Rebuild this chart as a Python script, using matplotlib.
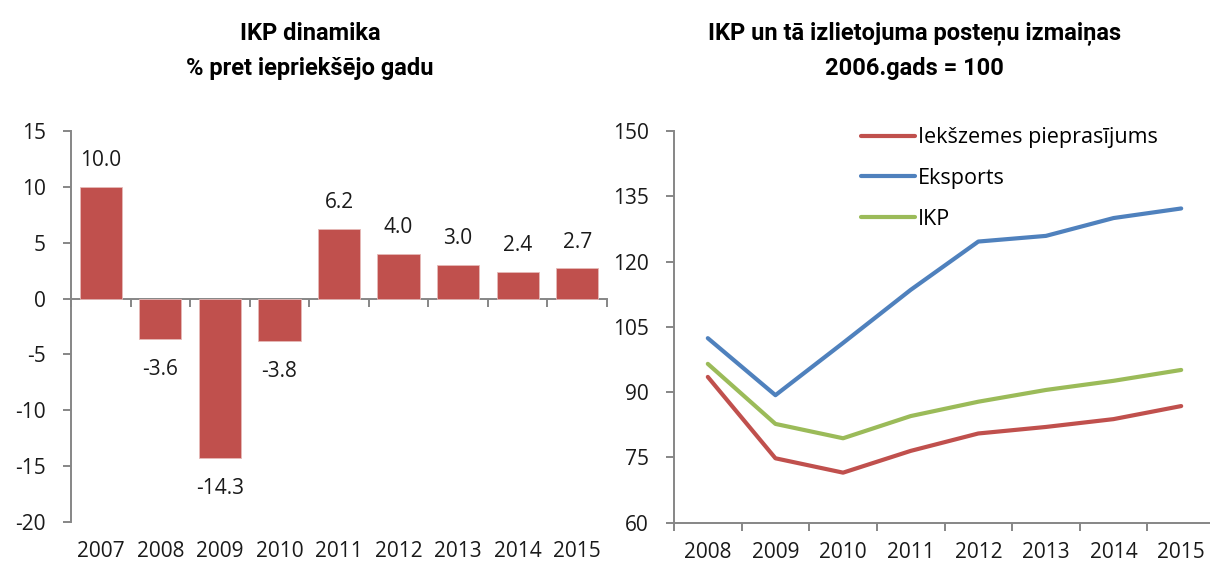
import numpy as np
import matplotlib.pyplot as plt

# left chart: GDP growth, % vs previous year
bar_years = ['2007', '2008', '2009', '2010', '2011', '2012', '2013', '2014', '2015']
gdp_growth = [10.0, -3.6, -14.3, -3.8, 6.2, 4.0, 3.0, 2.4, 2.7]

# right chart: index, 2006 = 100
line_years = ['2008', '2009', '2010', '2011', '2012', '2013', '2014', '2015']
domestic = [93.5, 74.8, 71.5, 76.5, 80.5, 82.0, 83.8, 86.8]
exports = [102.4, 89.3, 101.3, 113.5, 124.6, 125.9, 130.0, 132.2]
gdp_index = [96.5, 82.7, 79.4, 84.5, 87.8, 90.5, 92.6, 95.1]

red = '#C0504D'
blue = '#4F81BD'
green = '#9BBB59'
axcol = '#868686'
fs = 15

plt.rcParams['font.family'] = ['Open Sans', 'DejaVu Sans']
plt.rcParams['axes.unicode_minus'] = False
title_font = ['Roboto', 'DejaVu Sans']

fig = plt.figure(figsize=(12.1, 5.61), dpi=100)

# ---- left: bars ----
ax1 = fig.add_axes([71/1210, 1-522/561, 536/1210, 391/561])
x = np.arange(len(bar_years))
ax1.bar(x, gdp_growth, width=0.71, color=red, edgecolor='#E6B9B8', linewidth=0.6, zorder=2)
for xi, v in zip(x, gdp_growth):
    off = 19 if v >= 0 else -22
    ax1.annotate(f'{v:.1f}', (xi, v), xytext=(0, off), textcoords='offset points',
                 ha='center', va='center', fontsize=fs, color='#1a1a1a')
ax1.set_xlim(-0.5, len(bar_years) - 0.5)
ax1.set_ylim(-20, 15)
ax1.set_yticks(range(-20, 16, 5))
ax1.set_xticks(x)
ax1.set_xticklabels(bar_years)
ax1.tick_params(axis='x', length=0, pad=14, labelsize=fs, colors='#1a1a1a')
ax1.tick_params(axis='y', length=6, width=1.4, color=axcol, pad=12, labelsize=fs, labelcolor='#1a1a1a')
for s in ['top', 'right', 'bottom']:
    ax1.spines[s].set_visible(False)
ax1.spines['left'].set_color(axcol)
ax1.spines['left'].set_linewidth(1.4)
# zero line with category separators
sec = ax1.secondary_xaxis(0, transform=ax1.transData)
sec.set_xticks(np.arange(-0.5, len(bar_years), 1.0))
sec.set_xticklabels([])
sec.tick_params(length=6, width=1.4, color=axcol)
sec.spines['bottom'].set_color(axcol)
sec.spines['bottom'].set_linewidth(1.4)

# ---- right: lines ----
ax2 = fig.add_axes([674/1210, 1-522.7/561, 541/1210, 391.7/561])
xl = np.arange(len(line_years))
ax2.plot(xl, domestic, color=red, lw=3, solid_capstyle='round', label='Iekšzemes pieprasījums')
ax2.plot(xl, exports, color=blue, lw=3, solid_capstyle='round', label='Eksports')
ax2.plot(xl, gdp_index, color=green, lw=3, solid_capstyle='round', label='IKP')
ax2.set_xlim(-0.5, len(line_years) - 0.5)
ax2.set_ylim(60, 150)
ax2.set_yticks(range(60, 151, 15))
ax2.set_xticks(np.arange(-0.5, len(line_years), 1.0))
ax2.set_xticklabels([])
ax2.set_xticks(xl, minor=True)
ax2.set_xticklabels(line_years, minor=True)
ax2.tick_params(axis='x', which='major', length=6, width=1.4, color=axcol)
ax2.tick_params(axis='x', which='minor', length=0, pad=14, labelsize=fs, labelcolor='#1a1a1a')
ax2.tick_params(axis='y', length=6, width=1.4, color=axcol, pad=12, labelsize=fs, labelcolor='#1a1a1a')
for s in ['top', 'right']:
    ax2.spines[s].set_visible(False)
for s in ['left', 'bottom']:
    ax2.spines[s].set_color(axcol)
    ax2.spines[s].set_linewidth(1.4)
leg = ax2.legend(loc='upper left', bbox_to_anchor=(0.33, 1.032), frameon=False, fontsize=15.5,
                 handlelength=2.5, handletextpad=0.15, labelspacing=0.92, borderaxespad=0)

# ---- titles ----
tkw = dict(ha='center', va='baseline', fontsize=17, fontweight='bold', family=title_font)
fig.text(310/1210, 1-40/561, 'IKP dinamika', **tkw)
fig.text(310/1210, 1-75/561, '% pret iepriekšējo gadu', **tkw)
fig.text(915/1210, 1-40/561, 'IKP un tā izlietojuma posteņu izmaiņas', **tkw)
fig.text(914/1210, 1-75/561, '2006.gads = 100', **tkw)

fig.savefig('out.png', dpi=100)
